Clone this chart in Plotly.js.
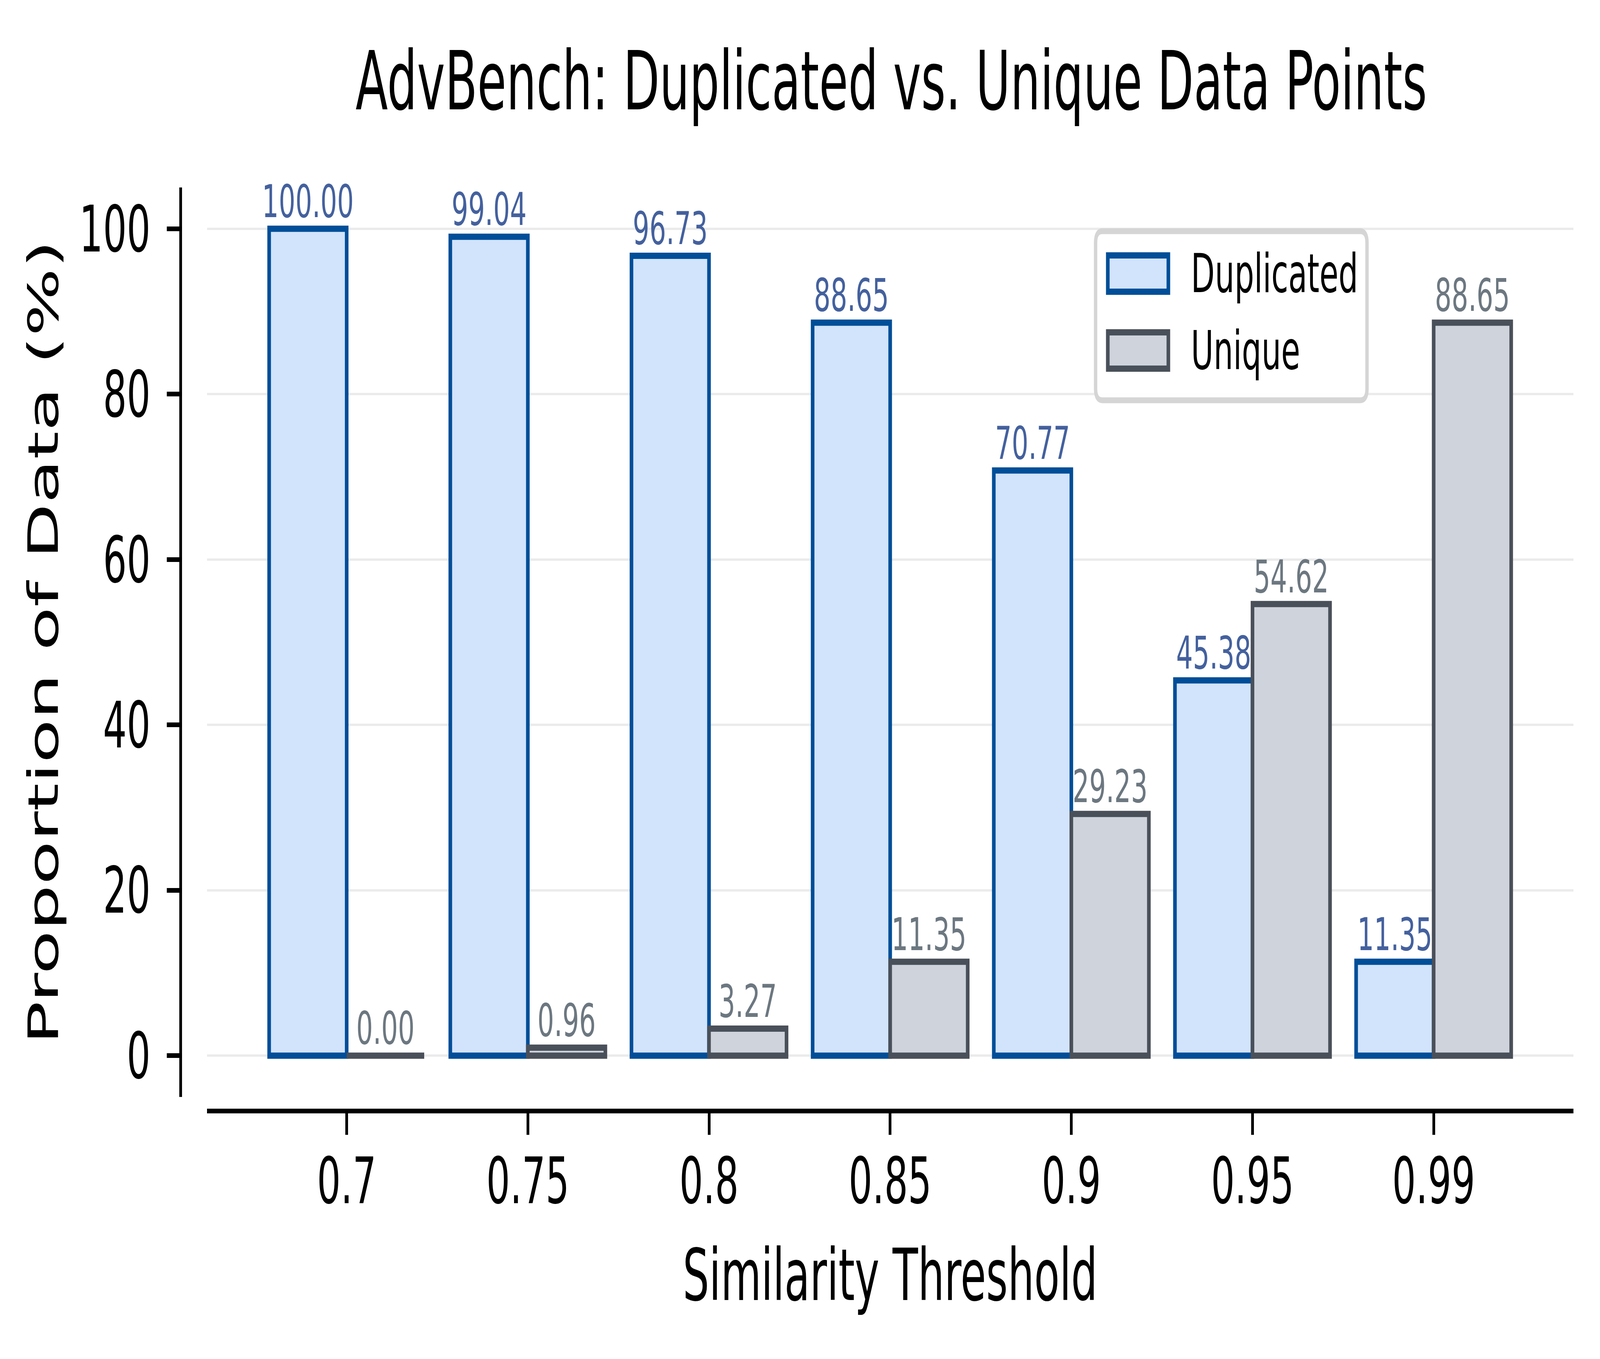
<!DOCTYPE html>
<html>
<head>
<meta charset="utf-8">
<script src="https://cdn.plot.ly/plotly-3.0.1.min.js"></script>
<style>
html,body{margin:0;padding:0;background:#fff;overflow:hidden;}
#chart{position:absolute;left:0;top:0;width:7080px;height:3480px;transform-origin:0 0;}
</style>
</head>
<body>
<div id="chart"></div>
<script>
const thresholds = ['0.7', '0.75', '0.8', '0.85', '0.9', '0.95', '0.99'];
const duplicated = [100.00, 99.04, 96.73, 88.65, 70.77, 45.38, 11.35];
const unique = [0.00, 0.96, 3.27, 11.35, 29.23, 54.62, 88.65];
const yTicks = [0, 20, 40, 60, 80, 100];
const seriesNames = ['Duplicated', 'Unique'];

const W = 7080, H = 3480;
// fit the full-size figure into whatever viewport the browser really has
const chartDiv = document.getElementById('chart');
const sx = window.innerWidth / W, sy = window.innerHeight / H;
chartDiv.style.transform = 'scale(' + sx + ',' + sy + ')';

const M = {l: 799, r: 118, t: 480, b: 635};
const PW = W - M.l - M.r, PH = H - M.t - M.b;
const fx = x => (x - M.l) / PW;
const fy = y => (H - M.b - y) / PH;

const FONT = 'DejaVu Sans, Liberation Sans, sans-serif';
const dupFill = '#d2e3fc', dupEdge = '#004e98', dupText = '#44619e';
const uniFill = '#ced3dc', uniEdge = '#4a5059', uniText = '#6c7780';

const traces = [
  {
    type: 'bar', name: seriesNames[0], x: thresholds, y: duplicated,
    marker: {color: dupFill, line: {color: dupEdge, width: 16}},
    text: duplicated.map(v => v.toFixed(2)), textposition: 'outside',
    textfont: {family: FONT, size: 116, color: dupText},
    constraintext: 'none', cliponaxis: false, hoverinfo: 'skip'
  },
  {
    type: 'bar', name: seriesNames[1], x: thresholds, y: unique,
    marker: {color: uniFill, line: {color: uniEdge, width: 16}},
    text: unique.map(v => v.toFixed(2)), textposition: 'outside',
    textfont: {family: FONT, size: 116, color: uniText},
    constraintext: 'none', cliponaxis: false, hoverinfo: 'skip'
  }
];

function rrect(x0, y0, x1, y1, r) {
  const P = (x, y) => fx(x) + ',' + fy(y);
  return 'M' + P(x0 + r, y0) + ' L' + P(x1 - r, y0) + ' Q' + P(x1, y0) + ' ' + P(x1, y0 + r) +
    ' L' + P(x1, y1 - r) + ' Q' + P(x1, y1) + ' ' + P(x1 - r, y1) +
    ' L' + P(x0 + r, y1) + ' Q' + P(x0, y1) + ' ' + P(x0, y1 - r) +
    ' L' + P(x0, y0 + r) + ' Q' + P(x0, y0) + ' ' + P(x0 + r, y0) + ' Z';
}

const shapes = [
  {type: 'path', xref: 'paper', yref: 'paper', path: rrect(4848, 592, 6049, 1025, 30),
   fillcolor: 'rgba(255,255,255,0.92)', line: {color: '#d5d5d5', width: 15}},
  {type: 'rect', xref: 'paper', yref: 'paper', x0: fx(4902), x1: fx(5170), y0: fy(654), y1: fy(747),
   fillcolor: dupFill, line: {color: dupEdge, width: 16}},
  {type: 'rect', xref: 'paper', yref: 'paper', x0: fx(4902), x1: fx(5170), y0: fy(851), y1: fy(944),
   fillcolor: uniFill, line: {color: uniEdge, width: 16}}
];

const annotations = [
  {xref: 'paper', yref: 'paper', x: fx(5268), y: fy(700), xanchor: 'left', yanchor: 'middle',
   text: seriesNames[0], showarrow: false, font: {family: FONT, size: 137, color: '#000'}},
  {xref: 'paper', yref: 'paper', x: fx(5268), y: fy(897), xanchor: 'left', yanchor: 'middle',
   text: seriesNames[1], showarrow: false, font: {family: FONT, size: 137, color: '#000'}}
];

const layout = {
  width: W, height: H,
  margin: M,
  paper_bgcolor: '#fff', plot_bgcolor: '#fff',
  font: {family: FONT, color: '#000', size: 165},
  showlegend: false,
  barmode: 'group', bargap: 0.144, bargroupgap: 0,
  title: {
    text: 'AdvBench: Duplicated vs. Unique Data Points',
    font: {family: FONT, size: 209, color: '#000'},
    xref: 'container', yref: 'container', x: 3944 / W, y: 1 - 207 / H,
    xanchor: 'center', yanchor: 'middle'
  },
  xaxis: {
    type: 'category', range: [-0.771, 6.771],
    domain: [fx(916), 1], anchor: 'free', position: 0,
    showline: true, linecolor: '#000', linewidth: 12,
    ticks: 'outside', ticklen: 55, tickwidth: 12, tickcolor: '#000',
    ticklabelstandoff: -23,
    tickfont: {family: FONT, size: 165, color: '#000'},
    showgrid: false, zeroline: false, automargin: false,
    title: {text: 'Similarity Threshold', font: {family: FONT, size: 184, color: '#000'}, standoff: 80}
  },
  yaxis: {
    range: [-5, 105], tickvals: yTicks, ticktext: yTicks.map(String),
    domain: [fy(2809), 1], anchor: 'free', position: 0,
    showline: true, linecolor: '#000', linewidth: 12,
    ticks: 'outside', ticklen: 55, tickwidth: 12, tickcolor: '#000',
    ticklabelstandoff: 39,
    tickfont: {family: FONT, size: 165, color: '#000'},
    showgrid: true, gridcolor: '#ebebeb', gridwidth: 6,
    zeroline: false, automargin: false,
    title: {text: 'Proportion of Data (%)', font: {family: FONT, size: 184, color: '#000'}, standoff: 30}
  },
  shapes: shapes,
  annotations: annotations
};

Plotly.newPlot('chart', traces, layout, {staticPlot: true, displayModeBar: false});
</script>
</body>
</html>
